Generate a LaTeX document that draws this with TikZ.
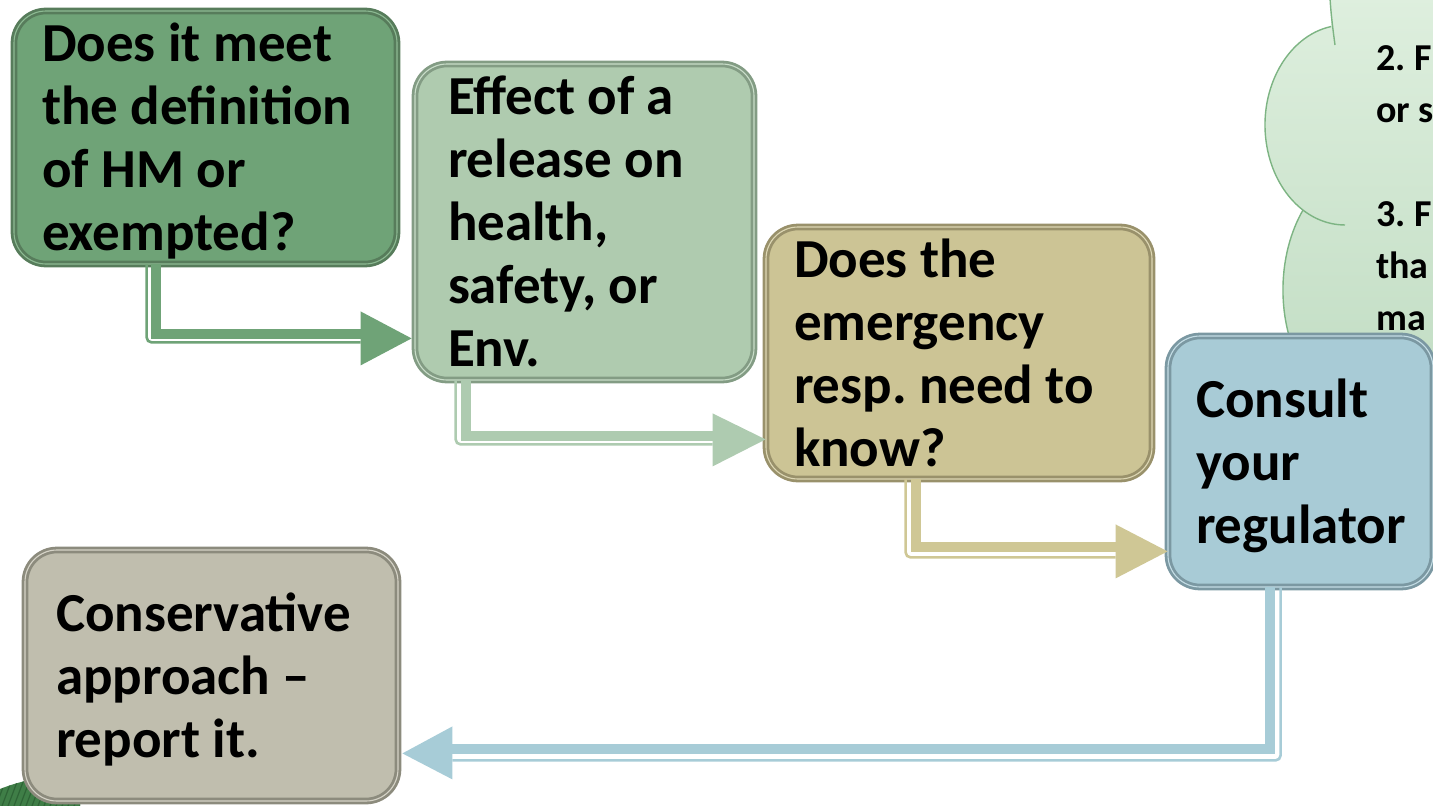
\documentclass[tikz,border=0pt]{standalone}
\usepackage{fontspec}
\setmainfont{Carlito}
\usetikzlibrary{calc}

% box colours: fill, outer edge, inner highlight line
\definecolor{boxAfill}{HTML}{6FA377}
\definecolor{boxAedge}{HTML}{577C5B}
\definecolor{boxAline}{HTML}{8DBA93}
\definecolor{boxBfill}{HTML}{AFCBAF}
\definecolor{boxBedge}{HTML}{839C84}
\definecolor{boxBline}{HTML}{C9DDC9}
\definecolor{boxCfill}{HTML}{CCC495}
\definecolor{boxCedge}{HTML}{99916B}
\definecolor{boxCline}{HTML}{DDD7B4}
\definecolor{boxDfill}{HTML}{A8CBD6}
\definecolor{boxDedge}{HTML}{7B98A2}
\definecolor{boxDline}{HTML}{C4DDE5}
\definecolor{boxEfill}{HTML}{C0BEAE}
\definecolor{boxEedge}{HTML}{8C8B7D}
\definecolor{boxEline}{HTML}{D6D4C8}
% connector colours
\definecolor{arrA}{HTML}{6FA377}
\definecolor{arrB}{HTML}{AECBB0}
\definecolor{arrC}{HTML}{CFC795}
\definecolor{arrD}{HTML}{A7CCD7}
% cloud and leaf
\definecolor{cloudtop}{HTML}{DEEFDE}
\definecolor{cloudbottom}{HTML}{C0DCC2}
\definecolor{cloudedge}{HTML}{7DB483}
\definecolor{leafgreen}{HTML}{3F7E47}
\definecolor{leafdark}{HTML}{2E6436}

\newcommand\boxfont{\fontsize{55}{63}\selectfont\bfseries\frenchspacing}
\newcommand\lstrut{\rule[-13pt]{0pt}{63pt}}
\newcommand\cloudfont{\fontsize{38}{52}\selectfont\bfseries\frenchspacing}
\newcommand\cstrut{\rule[-14pt]{0pt}{52pt}}

\begin{document}
\begin{tikzpicture}[x=1pt,y=-1pt,
  box/.style={rounded corners=32pt, line width=2.8pt, double distance=1.1pt,
    inner xsep=28pt, inner ysep=0pt, align=flush left, font=\boxfont, text=black},
  band/.style={line width=10pt},
  rail/.style={line width=2.6pt, rounded corners=5pt},
  cloudline/.style={draw=cloudedge, line width=1.4pt},
]
\path[use as bounding box, clip] (0,0) rectangle (1433,806);

% cloud callout in the upper right corner
\shade[top color=cloudtop, bottom color=cloudbottom]
  (1330,-5) -- (1330,0) .. controls (1331,10) and (1331,18) .. (1331.1,26.5)
  arc[start angle=260, end angle=121.8, x radius=80, y radius=100]
  arc[start angle=219, end angle=150, x radius=90, y radius=127]
  -- (1300,420) -- (1440,420) -- (1440,-5) -- cycle;
\draw[cloudline] (1330,-2) .. controls (1331,15) and (1333,30) .. (1335,45);
\draw[cloudline] (1331.1,26.5) arc[start angle=260, end angle=90, x radius=80, y radius=100];
\draw[cloudline] (1303,210) arc[start angle=219, end angle=145, x radius=90, y radius=127];
\node[anchor=north west, inner sep=0pt, align=flush left, font=\cloudfont] (cloudtext) at (1376,32)
  {\cstrut 2. F\\\cstrut or s\\[52pt]\cstrut 3. F\\\cstrut tha\\\cstrut ma};

% leaf in the lower left corner
\fill[leafgreen] (0,789) .. controls (25,779) and (50,775) .. (80,777) -- (80,806) -- (0,806) -- cycle;
\begin{scope}
  \clip (0,789) .. controls (25,779) and (50,775) .. (80,777) -- (80,806) -- (0,806) -- cycle;
  \foreach \i in {-10,-4,...,80} \draw[leafdark, line width=1.2pt] (\i,806) -- (\i+12,774);
\end{scope}

% process boxes
\node[box, fill=boxAfill, draw=boxAedge, double=boxAline,
  minimum width=383pt, minimum height=253pt, text width=327pt] (b1) at (205.5,137.5)
  {\lstrut Does it meet\\\lstrut the definition\\\lstrut of HM or\\\lstrut exempted?};
\node[box, fill=boxBfill, draw=boxBedge, double=boxBline, inner xsep=33pt,
  minimum width=339pt, minimum height=316pt, text width=273pt] (b2) at (584.5,222)
  {\lstrut Effect of a\\\lstrut release on\\\lstrut health,\\\lstrut safety, or\\\lstrut Env.};
\node[box, fill=boxCfill, draw=boxCedge, double=boxCline,
  minimum width=386pt, minimum height=252pt, text width=330pt] (b3) at (959,353)
  {\lstrut Does the\\\lstrut emergency\\\lstrut resp. need to\\\lstrut know?};
\node[box, fill=boxDfill, draw=boxDedge, double=boxDline,
  minimum width=265pt, minimum height=251pt, text width=209pt] (b4) at (1300.5,461.5)
  {\lstrut Consult\\\lstrut your\\\lstrut regulator};
\node[box, fill=boxEfill, draw=boxEedge, double=boxEline, inner xsep=31pt,
  minimum width=373pt, minimum height=251pt, text width=311pt] (b5) at (211.5,675.5)
  {\lstrut Conservative\\\lstrut approach –\\\lstrut report it.};

% connectors: a wide band, a thin rail on the outer side, and a triangular head
% b1 -> b2
\coordinate (t1) at ($(b2.south west)+(-2,-43)$);
\draw[arrA, band] ($(b1.south west)+(143,-1)$) |- ($(t1)+(-51,-4.5)$);
\draw[arrA, rail] ($(b1.south west)+(134,-1)$) |- ($(t1)+(-51,4)$);
\fill[arrA] ($(t1)+(-51,-27)$) -- (t1) -- ($(t1)+(-51,27)$) -- cycle;
% b2 -> b3
\coordinate (t2) at ($(b3.south west)+(1,-41)$);
\draw[arrB, band] ($(b2.south west)+(52,-1)$) |- ($(t2)+(-53,-3.5)$);
\draw[arrB, rail] ($(b2.south west)+(42,-1)$) |- ($(t2)+(-53,5)$);
\fill[arrB] ($(t2)+(-53,-26)$) -- (t2) -- ($(t2)+(-53,27)$) -- cycle;
% b3 -> b4
\coordinate (t3) at ($(b4.south west)+(1,-37)$);
\draw[arrC, band] ($(b3.south west)+(151,-1)$) |- ($(t3)+(-52,-4)$);
\draw[arrC, rail] ($(b3.south west)+(141,-1)$) |- ($(t3)+(-52,6)$);
\fill[arrC] ($(t3)+(-52,-27)$) -- (t3) -- ($(t3)+(-52,27)$) -- cycle;
% b4 -> b5
\coordinate (t4) at ($(b5.south east)+(3,-49)$);
\draw[arrD, band] ($(b4.south west)+(103.5,-1)$) |- ($(t4)+(50,-4)$);
\draw[arrD, rail] ($(b4.south west)+(114,-1)$) |- ($(t4)+(50,7)$);
\fill[arrD] ($(t4)+(50,-27)$) -- (t4) -- ($(t4)+(50,26)$) -- cycle;
\end{tikzpicture}
\end{document}
